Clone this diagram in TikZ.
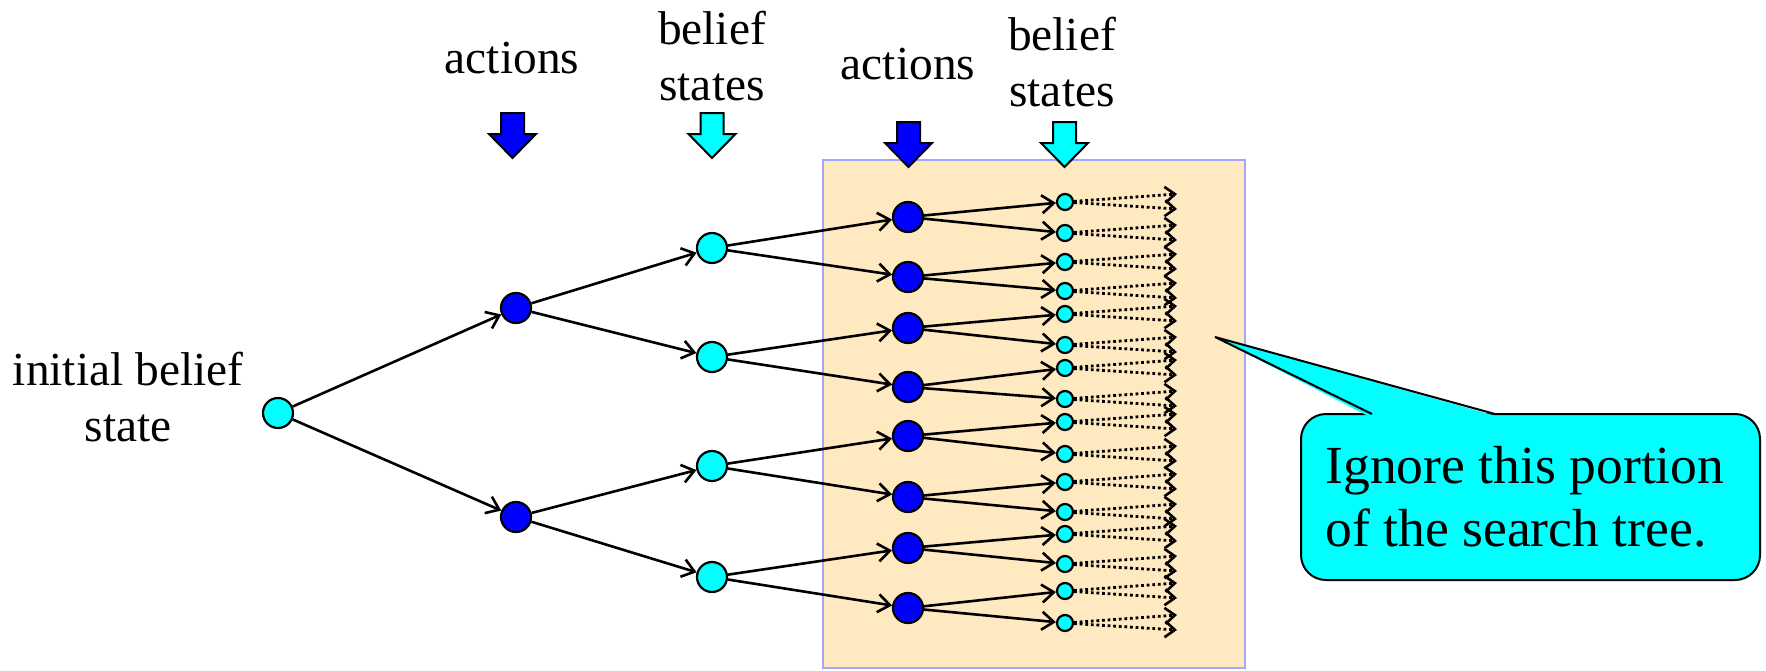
\documentclass[tikz,border=0pt]{standalone}
\usepackage{fontspec}
\setmainfont{Liberation Serif}
\usetikzlibrary{arrows.meta}
\definecolor{peach}{RGB}{255,233,193}
\definecolor{boxline}{RGB}{165,165,255}
\definecolor{actblue}{RGB}{0,0,255}
\definecolor{belcyan}{RGB}{0,255,255}
\begin{document}
\begin{tikzpicture}[x=0.5pt,y=-0.5pt,
  bignode/.style={circle,draw=black,line width=1.1pt,inner sep=0pt,minimum size=15pt},
  actnode/.style={bignode,fill=actblue},
  belnode/.style={bignode,fill=belcyan},
  smallbel/.style={circle,draw=black,line width=1.1pt,inner sep=0pt,minimum size=8pt,fill=belcyan},
  edge/.style={line width=1.3pt,-{Straight Barb[length=6pt,width=9pt,line width=1.3pt]}},
  dotedge/.style={line width=1.4pt,dash pattern=on 1.4pt off 1.4pt,-{Straight Barb[length=5pt,width=8pt,line width=1.3pt]}},
  lbl/.style={anchor=south,inner sep=0pt,align=center,font=\fontsize{23.7pt}{28pt}\selectfont},
  calloutbox/.style={rectangle,rounded corners=12.5pt,draw=black,line width=1pt,fill=belcyan,
     minimum width=229.5pt,minimum height=83pt,inner sep=0pt},
  callouttext/.style={anchor=south west,inner sep=0pt,align=left,font=\fontsize{26.8pt}{31.5pt}\selectfont},
  pics/downarr/.style={code={\draw[line width=1pt,fill=#1] (-11.5,0) -- (11.5,0) -- (11.5,21) -- (23.5,21) -- (0,45) -- (-23.5,21) -- (-11.5,21) -- cycle;}}
]
\useasboundingbox (0,0) rectangle (1766,670);

% shaded region
\draw[boxline,line width=0.7pt,fill=peach] (823,160) rectangle (1245,668);

% nodes
\node[belnode] (i0) at (278,413) {};
\node[actnode] (a1) at (516,308) {};
\node[actnode] (a2) at (516,517) {};
\foreach \y [count=\n] in {248,357,466,577} \node[belnode] (b\n) at (712,\y) {};
\foreach \y [count=\n] in {217,277,328,387,436,497,548,608} \node[actnode] (c\n) at (908,\y) {};
\foreach \y [count=\n] in {202,233,262,291,314,345,368,399,422,454,482,512,534,564,591,623} {
  \node[smallbel] (d\n) at (1065,\y) {};
  \coordinate (eu\n) at (1177,\y-8);
  \coordinate (el\n) at (1177,\y+7);
}

% edges
\draw[edge] (i0) -- (a1);
\draw[edge] (i0) -- (a2);
\draw[edge] (a1) -- (b1);
\draw[edge] (a1) -- (b2);
\draw[edge] (a2) -- (b3);
\draw[edge] (a2) -- (b4);
\foreach \i in {1,...,4} {
  \pgfmathtruncatemacro{\p}{2*\i-1}
  \pgfmathtruncatemacro{\q}{2*\i}
  \draw[edge] (b\i) -- (c\p);
  \draw[edge] (b\i) -- (c\q);
}
\foreach \j in {1,...,8} {
  \pgfmathtruncatemacro{\p}{2*\j-1}
  \pgfmathtruncatemacro{\q}{2*\j}
  \draw[edge] (c\j) -- (d\p);
  \draw[edge] (c\j) -- (d\q);
}
\foreach \k in {1,...,16} {
  \draw[dotedge] (d\k) -- (eu\k);
  \draw[dotedge] (d\k) -- (el\k);
}

% block arrows
\pic at (512.5,113) {downarr=actblue};
\pic at (712,113) {downarr=belcyan};
\pic at (908.5,122) {downarr=actblue};
\pic at (1064.5,122) {downarr=belcyan};

% labels
\node[lbl] (l0) at (128,442) {initial belief\\state};
\node[lbl] (l1) at (512,74) {actions};
\node[lbl] (l2) at (712,101.7) {belief\\states};
\node[lbl] (l3) at (908,80) {actions};
\node[lbl] (l4) at (1062,107) {belief\\states};

% callout
\node[calloutbox] (co) at (1530.5,497) {};
\fill[belcyan] (1369,416.5) -- (1215,337) -- (1498,416.5) -- cycle;
\draw[line width=1pt,line join=miter] (1372,414) -- (1215,337) -- (1495,414);
\node[callouttext] (ct) at (1325,548) {Ignore this portion\\of the search tree.};
\end{tikzpicture}
\end{document}
